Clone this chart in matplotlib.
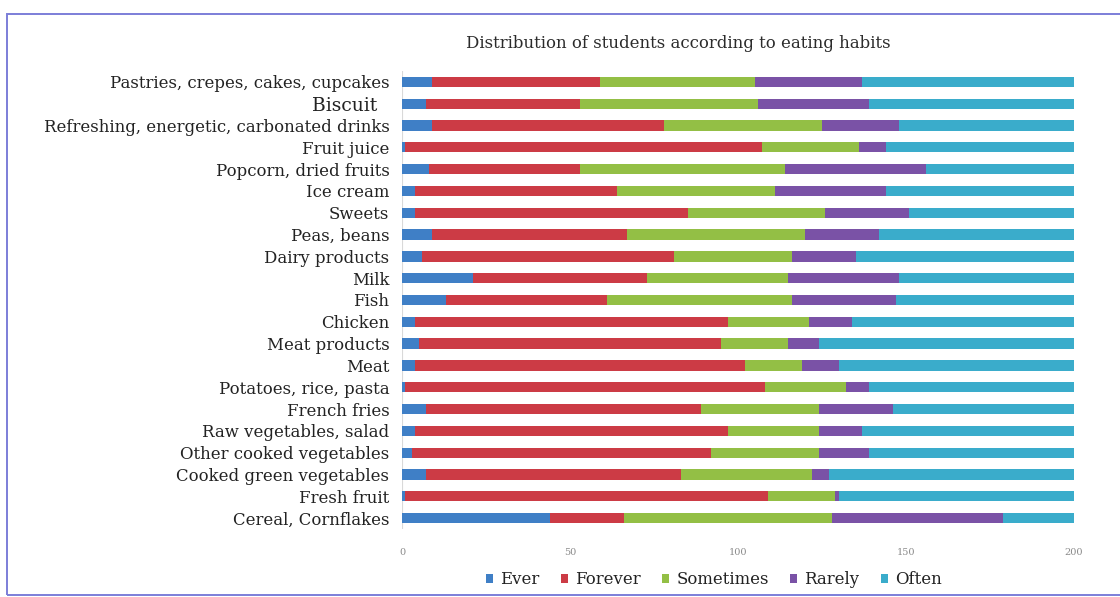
import matplotlib.pyplot as plt
import numpy as np
from matplotlib.patches import Rectangle

# ─── Data (bottom row first) ───
FOODS = [
    'Cereal, Cornflakes', 'Fresh fruit', 'Cooked green vegetables',
    'Other cooked vegetables', 'Raw vegetables, salad', 'French fries',
    'Potatoes, rice, pasta', 'Meat', 'Meat products', 'Chicken', 'Fish',
    'Milk', 'Dairy products', 'Peas, beans', 'Sweets', 'Ice cream',
    'Popcorn, dried fruits', 'Fruit juice',
    'Refreshing, energetic, carbonated drinks', 'Biscuit  ',
    'Pastries, crepes, cakes, cupcakes',
]
ever      = [44, 1, 7, 3, 4, 7, 1, 4, 5, 4, 13, 21, 6, 9, 4, 4, 8, 1, 9, 7, 9]
forever   = [22, 108, 76, 89, 93, 82, 107, 98, 90, 93, 48, 52, 75, 58, 81, 60, 45, 106, 69, 46, 50]
sometimes = [62, 20, 39, 32, 27, 35, 24, 17, 20, 24, 55, 42, 35, 53, 41, 47, 61, 29, 47, 53, 46]
rarely    = [51, 1, 5, 15, 13, 22, 7, 11, 9, 13, 31, 33, 19, 22, 25, 33, 42, 8, 23, 33, 32]
often     = [21, 70, 73, 61, 63, 54, 61, 70, 76, 66, 53, 52, 65, 58, 49, 56, 44, 56, 52, 61, 63]

SERIES = [
    ('Ever',      ever,      '#3f7fc6'),
    ('Forever',   forever,   '#cc3b45'),
    ('Sometimes', sometimes, '#93bf45'),
    ('Rarely',    rarely,    '#7a52a6'),
    ('Often',     often,     '#3aaccb'),
]

plt.rcParams['font.family'] = ['DejaVu Serif']

fig = plt.figure(figsize=(11.2, 5.97), dpi=100)
ax = fig.add_axes([402/1120, 1 - 529/597, 672/1120, 458/597])

y = np.arange(len(FOODS))
left = np.zeros(len(FOODS))
for name, vals, color in SERIES:
    vals = np.array(vals, dtype=float)
    ax.barh(y, vals, left=left, height=0.47, color=color, label=name)
    left += vals

ax.set_xlim(0, 200)
ax.set_ylim(-0.5, len(FOODS) - 0.5)
ax.set_xticks([0, 50, 100, 150, 200])
ax.tick_params(axis='x', length=0, labelsize=7, labelcolor='#8a8a8a', pad=14)
ax.set_yticks(y)
ax.set_yticklabels(FOODS, color='#222222')
ax.tick_params(axis='y', length=0, pad=9)
for lbl in ax.get_yticklabels():
    lbl.set_fontsize(13.5 if lbl.get_text().startswith('Biscuit') else 11.9)
for s in ax.spines.values():
    s.set_visible(False)
ax.axvline(0, color='#d9d9d9', linewidth=0.8, zorder=0)

fig.text(678/1120, 1 - 44/597, 'Distribution of students according to eating habits',
         ha='center', va='center', fontsize=11.9, color='#2b2b2b')

leg = fig.legend(loc='center', bbox_to_anchor=(714/1120, 1 - 580/597), ncol=5,
                 frameon=False, fontsize=11.9, handlelength=0.4, handleheight=0.4,
                 handletextpad=0.45, columnspacing=1.3)
for t in leg.get_texts():
    t.set_color('#222222')

# outer frame
fig.patches.append(Rectangle((7/1120, 0.003), 1.1, 1 - 14/597 - 0.003,
                             transform=fig.transFigure, fill=False,
                             edgecolor='#7c7ed8', linewidth=1.4))

fig.savefig('out.png', dpi=100)
